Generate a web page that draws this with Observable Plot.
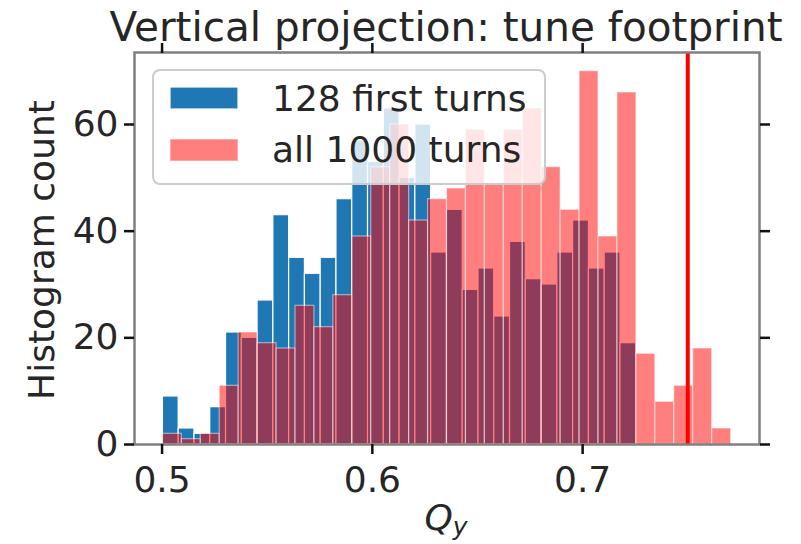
<!DOCTYPE html>
<html><head><meta charset="utf-8">
<script src="https://cdn.jsdelivr.net/npm/d3@7"></script>
<script src="https://cdn.jsdelivr.net/npm/@observablehq/plot@0.6"></script>
<style>body{margin:0;background:#fff}</style>
</head><body><div id="chart"></div>
<script>
// histogram counts (30 bins each)
const blueCounts = [9, 3, 2, 7, 21, 20, 27, 43, 35, 32, 35, 46, 57, 53, 63, 50, 60, 36, 44, 29, 33, 24, 38, 31, 30, 36, 42, 33, 36, 19];
const redCounts = [2, 1, 2, 11, 21, 19, 18, 26, 22, 28, 39, 52, 60, 42, 46, 48, 59, 49, 59, 63, 52, 44, 70, 39, 66, 17, 8, 11, 18, 3];
const blueRange = [0.5004, 0.7255];
const redRange = [0.5004, 0.7706];
const xTicks = [0.5, 0.6, 0.7];
const yTicks = [0, 20, 40, 60];
const tuneLine = [0.75];
const legendLabels = ["128 first turns", "all 1000 turns"];
const titleText = "Vertical projection: tune footprint";
const yLabel = "Histogram count";

function toBins(counts, range) {
  const [lo, hi] = range;
  const w = (hi - lo) / counts.length;
  return counts.map((c, i) => ({x1: lo + i * w, x2: lo + (i + 1) * w, y: c}));
}
const blueBins = toBins(blueCounts, blueRange);
const redBins = toBins(redCounts, redRange);
const span = redRange[1] - redRange[0];
const xDomain = [redRange[0] - 0.05 * span, redRange[1] + 0.05 * span];
const yDomain = [0, 1.05 * d3.max(redCounts)];

const ink = "#262626";
const font = "DejaVu Sans";

const chart = Plot.plot({
  width: 801, height: 544,
  marginLeft: 134, marginRight: 42, marginTop: 52, marginBottom: 100,
  style: {fontFamily: font, background: "white", color: ink},
  x: {domain: xDomain},
  y: {domain: yDomain},
  marks: [
    Plot.rect(blueBins, {x1: "x1", x2: "x2", y1: 0, y2: "y", fill: "#1f77b4", stroke: "white", strokeWidth: 1.2}),
    Plot.rect(redBins, {x1: "x1", x2: "x2", y1: 0, y2: "y", fill: "red", fillOpacity: 0.5, stroke: "white", strokeOpacity: 0.5, strokeWidth: 1.2}),
    Plot.ruleX(tuneLine, {stroke: "red", strokeWidth: 4}),
    Plot.frame({stroke: "#808080", strokeWidth: 2.5}),
    Plot.axisX({ticks: xTicks, tickSize: 10, tickPadding: 12, tickFormat: d3.format(".1f"), fontSize: 36, label: null, stroke: "#111", strokeWidth: 2.5, fill: ink}),
    Plot.axisX({anchor: "top", ticks: xTicks, tickSize: 10, tickFormat: () => "", label: null, stroke: "#111", strokeWidth: 2.5}),
    Plot.axisY({ticks: yTicks, tickSize: 10, tickPadding: 6, fontSize: 36, label: null, stroke: "#111", strokeWidth: 2.5, fill: ink}),
    Plot.axisY({anchor: "right", ticks: yTicks, tickSize: 10, tickFormat: () => "", label: null, stroke: "#111", strokeWidth: 2.5})
  ]
});
document.getElementById("chart").appendChild(chart);

const svg = d3.select(chart);
// title
svg.append("text").attr("x", 446).attr("y", 41).attr("text-anchor", "middle")
  .attr("font-family", font).attr("font-size", 40.5).attr("fill", ink).text(titleText);
// y label
svg.append("text").attr("transform", "translate(54,250) rotate(-90)").attr("text-anchor", "middle")
  .attr("font-family", font).attr("font-size", 36).attr("fill", ink).text(yLabel);
// x label Q_y
const xl = svg.append("text").attr("x", 446).attr("y", 530).attr("text-anchor", "middle")
  .attr("font-family", font).attr("fill", ink);
xl.append("tspan").attr("font-size", 36).attr("font-style", "italic").text("Q");
xl.append("tspan").attr("font-size", 25).attr("font-style", "italic").attr("dy", 5).text("y");

// legend
const lg = svg.append("g");
lg.append("rect").attr("x", 153).attr("y", 70).attr("width", 392).attr("height", 114).attr("rx", 7)
  .attr("fill", "white").attr("fill-opacity", 0.8).attr("stroke", "#cccccc").attr("stroke-width", 2);
lg.append("rect").attr("x", 170).attr("y", 87).attr("width", 68).attr("height", 22)
  .attr("fill", "#1f77b4").attr("stroke", "white").attr("stroke-width", 1.2);
lg.append("rect").attr("x", 170).attr("y", 139).attr("width", 68).attr("height", 22)
  .attr("fill", "red").attr("fill-opacity", 0.5).attr("stroke", "white").attr("stroke-opacity", 0.5).attr("stroke-width", 1.2);
legendLabels.forEach((t, i) => {
  lg.append("text").attr("x", 272).attr("y", 111 + i * 51).attr("text-anchor", "start")
    .attr("font-family", font).attr("font-size", 36).attr("fill", ink).text(t);
});
</script></body></html>
